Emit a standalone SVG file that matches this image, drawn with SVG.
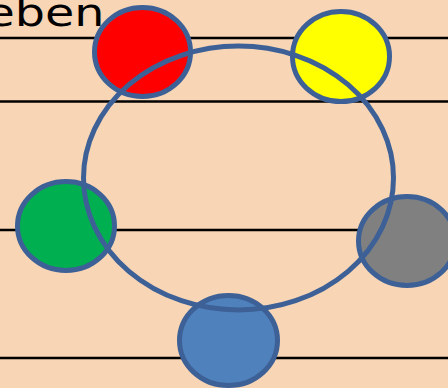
<svg xmlns="http://www.w3.org/2000/svg" width="448" height="388" viewBox="0 0 448 388">
<style>
.ln{stroke:#000;stroke-width:2.6;fill:none}
.node ellipse{stroke:#3D6196;stroke-width:5}
.ring{fill:none;stroke:#3D6196;stroke-width:5}
.lbl{font-family:"DejaVu Sans",Verdana,sans-serif;font-size:39px;fill:#000}
</style>
<rect x="0" y="0" width="448" height="388" fill="#F8D5B5"/>
<g id="staff">
<line class="ln" x1="0" y1="38" x2="448" y2="38"/>
<line class="ln" x1="0" y1="101.5" x2="448" y2="101.5"/>
<line class="ln" x1="0" y1="230" x2="448" y2="230"/>
<line class="ln" x1="0" y1="358" x2="448" y2="358"/>
</g>
<text class="lbl" x="-14.5" y="26" textLength="119" lengthAdjust="spacingAndGlyphs">eben</text>
<g id="red" class="node"><ellipse cx="142.5" cy="52" rx="48" ry="44.5" fill="#FF0000"/></g>
<g id="yellow" class="node"><ellipse cx="341" cy="56.5" rx="48.5" ry="45" fill="#FFFF00"/></g>
<g id="green" class="node"><ellipse cx="66" cy="226" rx="48.5" ry="44.5" fill="#00B050"/></g>
<g id="gray" class="node"><ellipse cx="407" cy="241" rx="48.5" ry="44.5" fill="#808080"/></g>
<g id="blue" class="node"><ellipse cx="228.5" cy="340.5" rx="49" ry="45" fill="#4F81BD"/></g>
<g id="connectors">
<ellipse class="ring" cx="238.5" cy="178" rx="155" ry="132"/>
</g>
</svg>
